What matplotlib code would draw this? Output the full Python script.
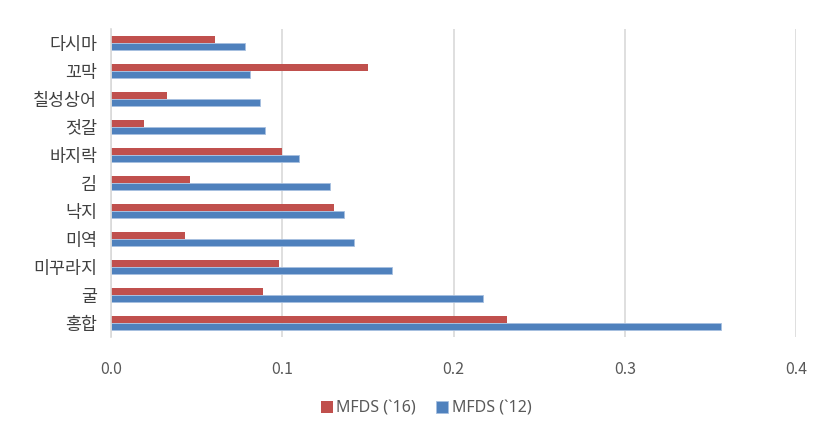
import numpy as np
import matplotlib.pyplot as plt

plt.rcParams['font.family'] = ['Noto Sans CJK KR', 'DejaVu Sans']

# categories listed bottom to top
categories = ["홍합", "굴", "미꾸라지", "미역", "낙지", "김", "바지락", "젓갈", "칠성상어", "꼬막", "다시마"]
mfds_16 = [0.231, 0.089, 0.098, 0.043, 0.130, 0.046, 0.100, 0.019, 0.033, 0.150, 0.061]
mfds_12 = [0.356, 0.217, 0.164, 0.142, 0.136, 0.128, 0.110, 0.090, 0.087, 0.081, 0.078]

red = '#C0504D'
blue = '#4F81BD'

fig = plt.figure(figsize=(8.19, 4.36), dpi=100)
ax = fig.add_axes([0.1355, 0.227, 0.8365, 0.7065])

y = np.arange(len(categories))
h = 0.26
ax.barh(y + h / 2, mfds_16, height=h, color=red, label="MFDS (`16)")
ax.barh(y - h / 2, mfds_12, height=h, color=blue, edgecolor='#a7c0e0', linewidth=0.6,
        label="MFDS (`12)")

ax.set_xlim(0, 0.4)
ax.set_ylim(-0.5, len(categories) - 0.5)
ax.set_xticks([0.0, 0.1, 0.2, 0.3, 0.4])
ax.set_xticklabels(["0.0", "0.1", "0.2", "0.3", "0.4"])
ax.set_yticks(y)
ax.set_yticklabels(categories)

ax.grid(axis='x', color='#d9d9d9', linewidth=1.2)
ax.set_axisbelow(True)
for s in ['top', 'right', 'bottom']:
    ax.spines[s].set_visible(False)
ax.spines['left'].set_color('#d9d9d9')
ax.spines['left'].set_linewidth(1.2)

ax.tick_params(axis='y', length=0, pad=10, labelsize=12.5, labelcolor='#404040')
ax.tick_params(axis='x', length=0, pad=17, labelsize=11.5, labelcolor='#595959')

ax.legend(loc='upper center', bbox_to_anchor=(0.46, -0.16), ncol=2, frameon=False,
          handlelength=0.75, handleheight=0.75, handletextpad=0.2,
          columnspacing=1.3, labelcolor='#595959',
          prop={'family': ['Noto Sans', 'DejaVu Sans'], 'size': 11.5})

fig.savefig('out.png', dpi=100)
